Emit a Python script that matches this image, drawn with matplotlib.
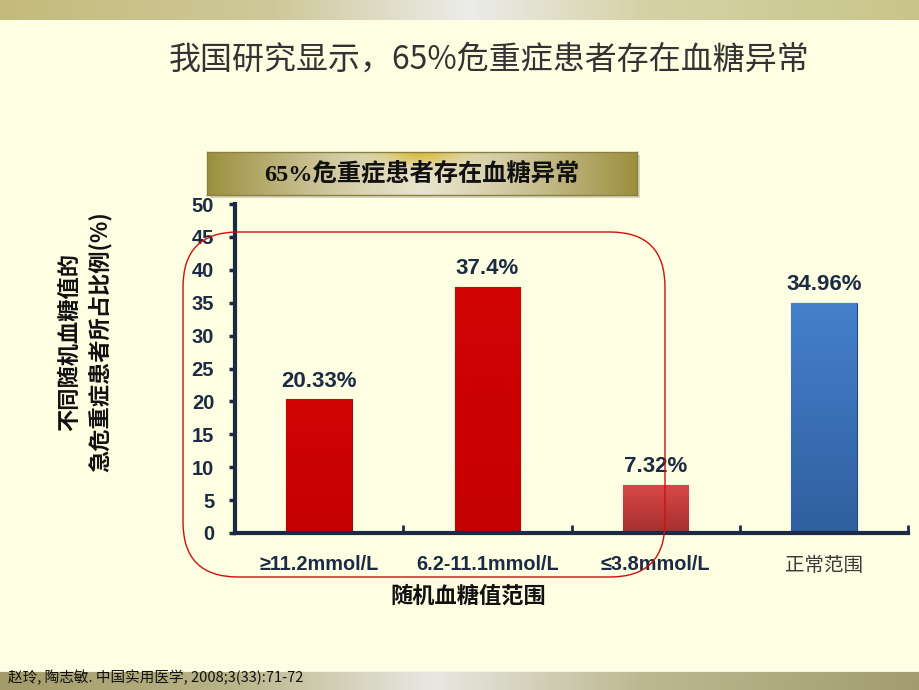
import numpy as np
import matplotlib
matplotlib.use('Agg')
import matplotlib.pyplot as plt
from matplotlib.patches import FancyBboxPatch

plt.rcParams['font.family'] = ['Liberation Sans', 'Noto Sans CJK SC', 'DejaVu Sans']

# Données
categories = ['≥11.2mmol/L', '6.2-11.1mmol/L', '≤3.8mmol/L', '正常范围']
values = [20.33, 37.4, 7.32, 34.96]
value_labels = ['20.33%', '37.4%', '7.32%', '34.96%']
y_ticks = [0, 5, 10, 15, 20, 25, 30, 35, 40, 45, 50]

title = '我国研究显示，65%危重症患者存在血糖异常'
banner = '65%危重症患者存在血糖异常'
ylabel = '不同随机血糖值的\n急危重症患者所占比例(%)'
xlabel = '随机血糖值范围'
source = '赵玲, 陶志敏. 中国实用医学, 2008;3(33):71-72'

navy = '#1c2b45'
cjk = ['Noto Sans CJK SC', 'DejaVu Sans']

fig = plt.figure(figsize=(9.2, 6.9), dpi=100)
fig.patch.set_facecolor('#fefee2')


def hgrad(stops, n=400):
    # dégradé horizontal à partir de (pos, couleur)
    pos = [s[0] for s in stops]
    cols = np.array([matplotlib.colors.to_rgb(s[1]) for s in stops])
    x = np.linspace(0, 1, n)
    img = np.stack([np.interp(x, pos, cols[:, k]) for k in range(3)], axis=-1)
    return img[None, :, :]


# Bandeau haut
top = fig.add_axes([0, 1 - 20 / 690, 1, 20 / 690])
top.imshow(hgrad([(0, '#c4bb7a'), (0.3, '#cfc99a'), (0.51, '#ececea'),
                  (0.7, '#d6d2a6'), (1, '#c9c58a')]), aspect='auto')
top.axis('off')

# Bandeau bas
bot = fig.add_axes([0, 0, 1, 19 / 690])
bot.imshow(hgrad([(0, '#a39c68'), (0.25, '#b9b488'), (0.47, '#e8e8e2'),
                  (0.7, '#bdb890'), (1, '#a29c70')]), aspect='auto')
bot.axis('off')
bot.axhline(-0.5, color='#f4f4ea', lw=1.5)
fig.text(8 / 920, 1 - 677 / 690, source, family=cjk, fontsize=10.5,
         color='#111111', ha='left', va='center', zorder=10)

# Titre
fig.text(489 / 920, 1 - 60 / 690, title, family=cjk, fontsize=23,
         color='#333333', ha='center', va='center')

# Bandeau "65%..."
shadow = fig.add_axes([210 / 920, 1 - 198 / 690, 430 / 920, 43 / 690])
shadow.set_facecolor('#d8d6c0')
shadow.set_xticks([])
shadow.set_yticks([])
for s in shadow.spines.values():
    s.set_visible(False)
bax = fig.add_axes([207 / 920, 1 - 195 / 690, 430 / 920, 43 / 690])
xx = np.linspace(-1, 1, 400)
yy = np.linspace(-1, 1, 60)
X, Y = np.meshgrid(xx, yy)
base = np.clip(1 - np.abs(X) ** 1.3, 0, 1)
olive = np.array([0.61, 0.56, 0.24])
light = np.array([0.91, 0.89, 0.80])
img = olive + (light - olive) * base[..., None]
glow = np.exp(-(X / 0.18) ** 2 - ((Y + 1) / 0.6) ** 2)
yellow = np.array([0.84, 0.72, 0.18])
img = img + (yellow - img) * glow[..., None] * 0.9
bax.imshow(img, aspect='auto', origin='upper', extent=[0, 1, 0, 1])
bax.set_xticks([])
bax.set_yticks([])
for s in bax.spines.values():
    s.set_color('#8a8040')
    s.set_linewidth(1)
bax.text(0.5, 0.5, banner, transform=bax.transAxes, ha='center', va='center',
         family=['Liberation Serif', 'Noto Sans CJK SC'], fontsize=17.5,
         fontweight='bold', color='#111111')

# Graphique
ax = fig.add_axes([235 / 920, 1 - 533 / 690, 673 / 920, 329 / 690])
ax.set_facecolor('none')
x = np.arange(len(categories))
bar_cols = ['#cc0000', '#cc0000', '#c43a3a', '#3a6fb8']
grads = [('#d20404', '#c40000'), ('#d20404', '#c40000'),
         ('#d84848', '#a62f2f'), ('#4580cc', '#2f5f9f')]
bars = ax.bar(x, values, width=0.39, color=bar_cols, edgecolor='#8a1010',
              linewidth=0.8, zorder=2)
bars[3].set_edgecolor('#24477a')
for b, (c1, c2) in zip(bars, grads):
    g = hgrad([(0, c1), (1, c2)], n=100).transpose(1, 0, 2)
    x0, y0 = b.get_x(), b.get_y()
    im = ax.imshow(g, aspect='auto', extent=[x0, x0 + b.get_width(), y0, y0 + b.get_height()],
                   origin='upper', zorder=2.5)
    im.set_clip_path(b)

for xi, v, lab in zip(x, values, value_labels):
    ax.annotate(lab, (xi, v), xytext=(0, 18), textcoords='offset pixels',
                ha='center', va='center', fontsize=16, fontweight='bold', color=navy)

ax.set_xlim(-0.5, 3.5)
ax.set_ylim(0, 50)
ax.set_yticks(y_ticks)
ax.set_yticklabels([str(t) for t in y_ticks], fontsize=14.5, fontweight='bold', color=navy)
ax.tick_params(axis='y', direction='out', length=4, width=2.5, color=navy, pad=11)
ax.set_xticks(x)
ax.set_xticklabels(categories)
for i, t in enumerate(ax.get_xticklabels()):
    if i < 3:
        t.set_fontsize(14.3)
        t.set_fontweight('bold')
        t.set_color(navy)
    else:
        t.set_family(cjk)
        t.set_fontsize(14)
        t.set_color('#3a3a3a')
ax.tick_params(axis='x', length=0, pad=16)
ax.set_xticks(x + 0.5, minor=True)
ax.tick_params(axis='x', which='minor', direction='in', length=6, width=2, color=navy)
for side in ['top', 'right']:
    ax.spines[side].set_visible(False)
for side in ['left', 'bottom']:
    ax.spines[side].set_color(navy)
    ax.spines[side].set_linewidth(3)

fig.text(85 / 920, 1 - 342 / 690, ylabel, rotation=90, ha='center', va='center',
         multialignment='center', family=cjk, fontsize=16, fontweight='bold',
         color='#111111', linespacing=1.35)
fig.text(468 / 920, 1 - 596 / 690, xlabel, ha='center', va='center',
         family=cjk, fontsize=16, fontweight='bold', color='#111111')

# Cadre arrondi rouge
box = FancyBboxPatch((1.83, 1.13), 4.82, 3.45,
                     boxstyle='round,pad=0,rounding_size=0.55',
                     transform=fig.dpi_scale_trans, fill=False,
                     ec='#cc1010', lw=1, zorder=20)
fig.add_artist(box)

fig.savefig('out.png', dpi=100, facecolor=fig.get_facecolor())
